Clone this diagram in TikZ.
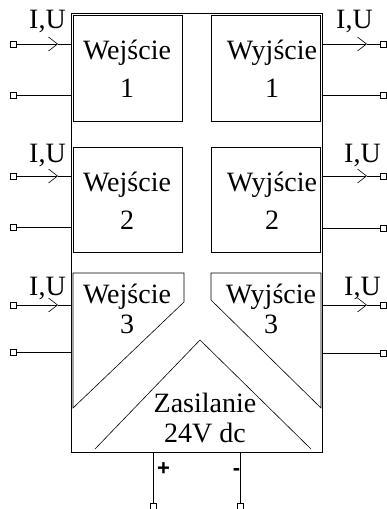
\documentclass[tikz,border=0pt]{standalone}
\usepackage{fontspec}
\setmainfont{Liberation Serif}
\newfontfamily\signfont{Liberation Sans}
\usetikzlibrary{arrows.meta,positioning}

\begin{document}
\begin{tikzpicture}[x=1pt, y=-1pt,
    box/.style={rectangle, draw, line width=0.6pt, inner sep=0pt},
    txt/.style={align=center, inner sep=0pt, font=\fontsize{28}{38}\selectfont},
    txtb/.style={align=center, inner sep=0pt, font=\fontsize{28}{30}\selectfont},
    iu/.style={anchor=base, inner sep=0pt, font=\fontsize{28}{30}\selectfont},
    pin/.style={rectangle, draw, fill=white, minimum size=6pt, inner sep=0pt, line width=0.5pt},
    sign/.style={inner sep=0pt, font=\signfont\bfseries\fontsize{22}{24}\selectfont},
    wire/.style={line width=0.6pt},
    arrow/.style={wire, -{Straight Barb[length=9pt, width=14pt, line width=0.6pt]}}
]
\useasboundingbox (0,0) rectangle (387,509);

% frame and blocks
\node[box, minimum width=251pt, minimum height=439pt] (frame) at (196.5,232.5) {};
\node[box, minimum width=109pt, minimum height=106pt] (in1) at (127.5,68) {};
\node[box, minimum width=109pt, minimum height=106pt] (out1) at (265.5,68) {};
\node[box, minimum width=109pt, minimum height=105pt] (in2) at (127.5,199.5) {};
\node[box, minimum width=109pt, minimum height=105pt] (out2) at (265.5,199.5) {};
\draw[wire] (73,273) -- (184,273) -- (184,302) -- (73,408) -- cycle;
\draw[wire] (211,273) -- (321,273) -- (321,408) -- (211,300) -- cycle;
\draw[wire] (95,449) -- (200,340) -- (311,449);

\node[txt] (in1t) at (127,68.5) {Wejście\\1};
\node[txt] (out1t) at (272,68.5) {Wyjście\\1};
\node[txt] (in2t) at (127,200.5) {Wejście\\2};
\node[txt] (out2t) at (272,200.5) {Wyjście\\2};
\node[txtb] (in3t) at (127,308.5) {Wejście\\3};
\node[txtb] (out3t) at (271,308.5) {Wyjście\\3};
\node[txtb] (power) at (205,417.5) {Zasilanie\\24V dc};

% inputs
\node[pin] (l1a) at (13.5,44) {};
\node[pin] (l1b) at (13.5,95) {};
\node[pin] (l2a) at (13.5,176) {};
\node[pin] (l2b) at (13.5,227) {};
\node[pin] (l3a) at (13.5,305) {};
\node[pin] (l3b) at (13.5,352) {};
\coordinate (tl1) at (58,44);
\coordinate (tl2) at (58,176);
\coordinate (tl3) at (58,305);
\draw[arrow] (l1a) -- (tl1);
\draw[wire] (tl1) -- (frame.west |- tl1);
\draw[arrow] (l2a) -- (tl2);
\draw[wire] (tl2) -- (frame.west |- tl2);
\draw[arrow] (l3a) -- (tl3);
\draw[wire] (tl3) -- (frame.west |- tl3);
\draw[wire] (l1b) -- (frame.west |- l1b);
\draw[wire] (l2b) -- (frame.west |- l2b);
\draw[wire] (l3b) -- (frame.west |- l3b);
\node[iu] (iul1) at (47.5,28) {I,U};
\node[iu] (iul2) at (47.5,162) {I,U};
\node[iu] (iul3) at (47.5,295) {I,U};

% outputs
\node[pin] (r1a) at (383.5,44) {};
\node[pin] (r1b) at (383.5,95) {};
\node[pin] (r2a) at (383.5,176) {};
\node[pin] (r2b) at (383.5,228) {};
\node[pin] (r3a) at (383.5,305) {};
\node[pin] (r3b) at (383.5,353) {};
\coordinate (tr1) at (367,44);
\coordinate (tr2) at (367,176);
\coordinate (tr3) at (367,305);
\draw[arrow] (frame.east |- tr1) -- (tr1);
\draw[wire] (tr1) -- (r1a);
\draw[arrow] (frame.east |- tr2) -- (tr2);
\draw[wire] (tr2) -- (r2a);
\draw[arrow] (frame.east |- tr3) -- (tr3);
\draw[wire] (tr3) -- (r3a);
\draw[wire] (frame.east |- r1b) -- (r1b);
\draw[wire] (frame.east |- r2b) -- (r2b);
\draw[wire] (frame.east |- r3b) -- (r3b);
\node[iu] (iur1) at (354.5,28) {I,U};
\node[iu] (iur2) at (362.5,162) {I,U};
\node[iu] (iur3) at (362.5,295) {I,U};

% supply
\node[pin] (plus) at (153,506) {};
\node[pin] (minus) at (240,506) {};
\draw[wire] (frame.south -| plus) -- (plus);
\draw[wire] (frame.south -| minus) -- (minus);
\node[sign] (plusl) at (163.5,469) {+};
\node[sign] (minusl) at (236.5,472) {-};
\end{tikzpicture}
\end{document}
